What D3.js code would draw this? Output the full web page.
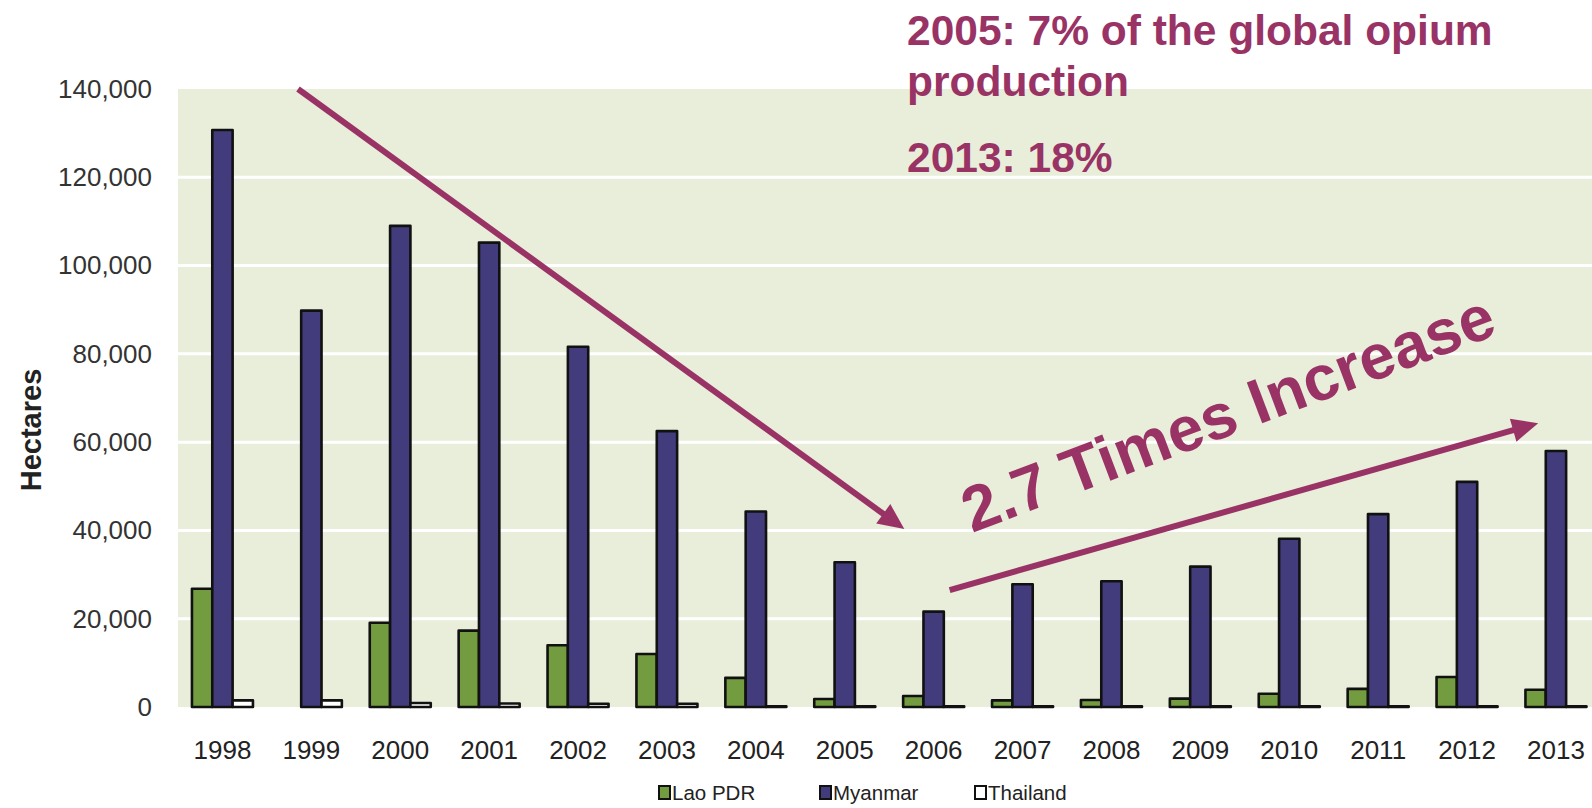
<!DOCTYPE html>
<html>
<head>
<meta charset="utf-8">
<script src="https://cdn.jsdelivr.net/npm/d3@7"></script>
<style>
  html, body { margin: 0; padding: 0; background: #ffffff; }
  svg { display: block; font-family: Arial, "Liberation Sans", sans-serif; }
</style>
</head>
<body>
<svg id="chart" width="1592" height="808"></svg>
<script>
// Opium poppy cultivation in South-East Asia (hectares)
const years = [1998, 1999, 2000, 2001, 2002, 2003, 2004, 2005, 2006, 2007, 2008, 2009, 2010, 2011, 2012, 2013];
const laoPDR   = [26800, 0, 19100, 17300, 14000, 12000, 6600, 1800, 2500, 1500, 1600, 1900, 3000, 4100, 6800, 3900];
const myanmar  = [130700, 89800, 109000, 105200, 81600, 62500, 44300, 32800, 21600, 27800, 28500, 31800, 38100, 43700, 51000, 58000];
const thailand = [1500, 1500, 900, 800, 750, 750, 0, 0, 0, 0, 0, 0, 0, 0, 0, 0];
const seriesNames = ["Lao PDR", "Myanmar", "Thailand"];
const yTicks = [0, 20000, 40000, 60000, 80000, 100000, 120000, 140000];

const series = [
  { name: seriesNames[0], values: laoPDR,   fill: "#729c3f" },
  { name: seriesNames[1], values: myanmar,  fill: "#423c7d" },
  { name: seriesNames[2], values: thailand, fill: "#ffffff" }
];

const svg = d3.select("#chart");
const plot = { left: 178, right: 1600.4, top: 89, bottom: 707 };

const x = d3.scaleBand().domain(years).range([plot.left, plot.right]).padding(0);
const groupWidth = 61;
const xInner = d3.scaleBand().domain(seriesNames).range([-groupWidth / 2, groupWidth / 2]).padding(0);
const y = d3.scaleLinear().domain([0, 140000]).range([plot.bottom, plot.top]);
const cx = d => x(d) + x.bandwidth() / 2;

// plot background
svg.append("rect")
  .attr("x", plot.left).attr("y", plot.top)
  .attr("width", plot.right - plot.left).attr("height", plot.bottom - plot.top)
  .attr("fill", "#e8eed9");

// horizontal gridlines
svg.append("g").selectAll("line")
  .data(yTicks.filter(t => t > 0 && t < 140000))
  .join("line")
  .attr("x1", plot.left).attr("x2", plot.right)
  .attr("y1", d => y(d)).attr("y2", d => y(d))
  .attr("stroke", "#ffffff").attr("stroke-width", 3);

// y axis labels
const yAxis = d3.axisLeft(y).tickValues(yTicks).tickSize(0).tickPadding(0)
  .tickFormat(d3.format(","));
svg.append("g")
  .attr("transform", `translate(152,0)`)
  .call(yAxis)
  .call(g => g.select(".domain").remove())
  .call(g => g.selectAll("text")
    .attr("font-size", 26).attr("fill", "#333333")
    .attr("font-family", "Arial, 'Liberation Sans', sans-serif"));

// x axis labels
const xAxis = d3.axisBottom(x).tickSize(0).tickPadding(0);
svg.append("g")
  .attr("transform", `translate(0,${plot.bottom})`)
  .call(xAxis)
  .call(g => g.select(".domain").remove())
  .call(g => g.selectAll("text")
    .attr("font-size", 26).attr("fill", "#222222")
    .attr("dy", null).attr("y", 52)
    .attr("font-family", "Arial, 'Liberation Sans', sans-serif"));

// y axis title
svg.append("text")
  .attr("transform", "translate(41,430) rotate(-90)")
  .attr("text-anchor", "middle")
  .attr("font-size", 29).attr("font-weight", "bold").attr("fill", "#222222")
  .text("Hectares");

// bars (zero values still show their outline along the baseline)
const barLayer = svg.append("g");
series.forEach(s => {
  barLayer.append("g").selectAll("rect")
    .data(years.map((yr, i) => ({ year: yr, value: s.values[i] })))
    .join("rect")
    .attr("x", d => cx(d.year) + xInner(s.name))
    .attr("width", xInner.bandwidth())
    .attr("y", d => Math.min(y(d.value), y(0) - 0.8))
    .attr("height", d => Math.max(y(0) - y(d.value), 0.8))
    .attr("fill", s.fill)
    .attr("stroke", "#111111")
    .attr("stroke-width", 2.6)
    .attr("stroke-linejoin", "round")
    .attr("display", d => (s.name === "Lao PDR" && d.value === 0) ? "none" : null);
});

// legend
const legend = svg.append("g").attr("transform", "translate(0,800)");
const legendX = [658, 819, 974];
series.forEach((s, i) => {
  const g = legend.append("g").attr("transform", `translate(${legendX[i]},0)`);
  g.append("rect").attr("x", 1).attr("y", -14).attr("width", 11).attr("height", 13)
    .attr("fill", s.fill).attr("stroke", "#111111").attr("stroke-width", 2);
  g.append("text").attr("x", 14).attr("y", 0)
    .attr("font-size", 20.5).attr("fill", "#222222").text(s.name);
});

// annotations: trend arrows, positioned in year / hectare space
const annColor = "#993366";
const xYear = d3.scaleLinear().domain([1998, 2013]).range([cx(1998), cx(2013)]);
const arrows = [
  { from: [1998.85, 140000], to: [2005.67, 40300] },
  { from: [2006.18, 26500],  to: [2012.80, 64300] }
];
const headLen = 26, headHalf = 12;
arrows.forEach(a => {
  const x0 = xYear(a.from[0]), y0 = y(a.from[1]);
  const x1 = xYear(a.to[0]),   y1 = y(a.to[1]);
  const len = Math.hypot(x1 - x0, y1 - y0);
  const ux = (x1 - x0) / len, uy = (y1 - y0) / len;
  const bx = x1 - ux * headLen, by = y1 - uy * headLen;
  svg.append("line")
    .attr("x1", x0).attr("y1", y0).attr("x2", bx + ux * 2).attr("y2", by + uy * 2)
    .attr("stroke", annColor).attr("stroke-width", 6);
  svg.append("path")
    .attr("d", `M${x1},${y1} L${bx - uy * headHalf},${by + ux * headHalf} L${bx + uy * headHalf},${by - ux * headHalf} Z`)
    .attr("fill", annColor);
});

svg.append("text")
  .attr("transform", "translate(972,533) rotate(-20.7)")
  .attr("font-size", 63.5).attr("font-weight", "bold").attr("fill", annColor)
  .text("2.7 Times Increase");

const notes = [
  { text: "2005: 7% of the global opium", y: 45 },
  { text: "production", y: 96 },
  { text: "2013: 18%", y: 172 }
];
svg.append("g").selectAll("text")
  .data(notes)
  .join("text")
  .attr("x", 907).attr("y", d => d.y)
  .attr("font-size", 42.5).attr("font-weight", "bold").attr("fill", annColor)
  .text(d => d.text);
</script>
</body>
</html>
